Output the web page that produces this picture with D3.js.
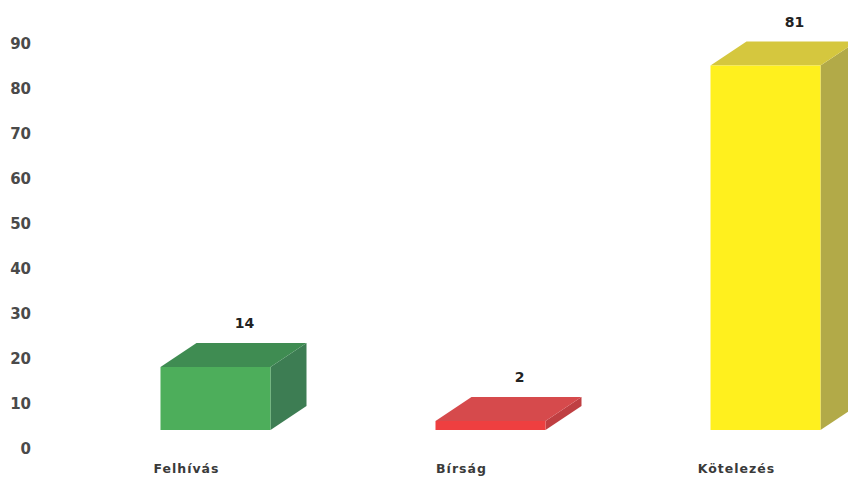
<!DOCTYPE html>
<html><head><meta charset="utf-8">
<script src="https://cdn.jsdelivr.net/npm/d3@7"></script>
<style>
html,body{margin:0;padding:0;background:#fff;}
svg{display:block;}
text{font-family:"DejaVu Sans",sans-serif;font-weight:bold;}
</style></head>
<body>
<svg id="chart" width="848" height="481"></svg>
<script>
const categories = ["Felhívás", "Bírság", "Kötelezés"];
const values = [14, 2, 81];
const tickValues = [0, 10, 20, 30, 40, 50, 60, 70, 80, 90];
const frontColors = ["#4dae5b", "#ee3f40", "#fff01e"];
const topColors = ["#3f8c52", "#d64a4c", "#d5c73e"];
const sideColors = ["#3d7d53", "#bf3f42", "#b2aa48"];

const svg = d3.select("#chart");

const y = d3.scaleLinear().domain([0, 90]).range([449, 44]);
const x = d3.scaleBand().domain(categories).range([78, 903]).padding(0);

const depthX = 36, depthY = 24, baseShift = 19;
const barW = x.bandwidth() * 0.4;

// Y axis labels
const yAxis = d3.axisLeft(y).tickValues(tickValues).tickSize(0).tickPadding(0);
const gy = svg.append("g").attr("transform", "translate(31,0)").call(yAxis);
gy.select(".domain").remove();
gy.selectAll("text").attr("fill", "#4a4a4a").style("font-size", "15px")
  .style("font-family", "'DejaVu Sans',sans-serif").style("font-weight", "bold");

// bars
const bars = svg.append("g");
categories.forEach((c, i) => {
  const cx = x(c) + x.bandwidth() / 2;
  const x0 = cx - barW / 2, x1 = cx + barW / 2;
  const yb = y(0) - baseShift;
  const yt = y(values[i]) - baseShift;
  const g = bars.append("g");
  g.append("path").attr("d", `M${x1},${yt} L${x1+depthX},${yt-depthY} L${x1+depthX},${yb-depthY} L${x1},${yb} Z`)
    .attr("fill", sideColors[i]);
  g.append("path").attr("d", `M${x0},${yt} L${x0+depthX},${yt-depthY} L${x1+depthX},${yt-depthY} L${x1},${yt} Z`)
    .attr("fill", topColors[i]);
  g.append("rect").attr("x", x0).attr("y", yt).attr("width", barW).attr("height", yb - yt)
    .attr("fill", frontColors[i]);
  g.append("text").attr("x", cx + 29).attr("y", yt - depthY - 15)
    .attr("text-anchor", "middle").attr("fill", "#222").style("font-size", "14px")
    .text(values[i]);
  g.append("text").attr("x", cx - 29).attr("y", 473)
    .attr("text-anchor", "middle").attr("fill", "#3a3a3a").style("font-size", "12.5px")
    .style("letter-spacing", "1px")
    .text(c);
});
</script>
</body></html>
